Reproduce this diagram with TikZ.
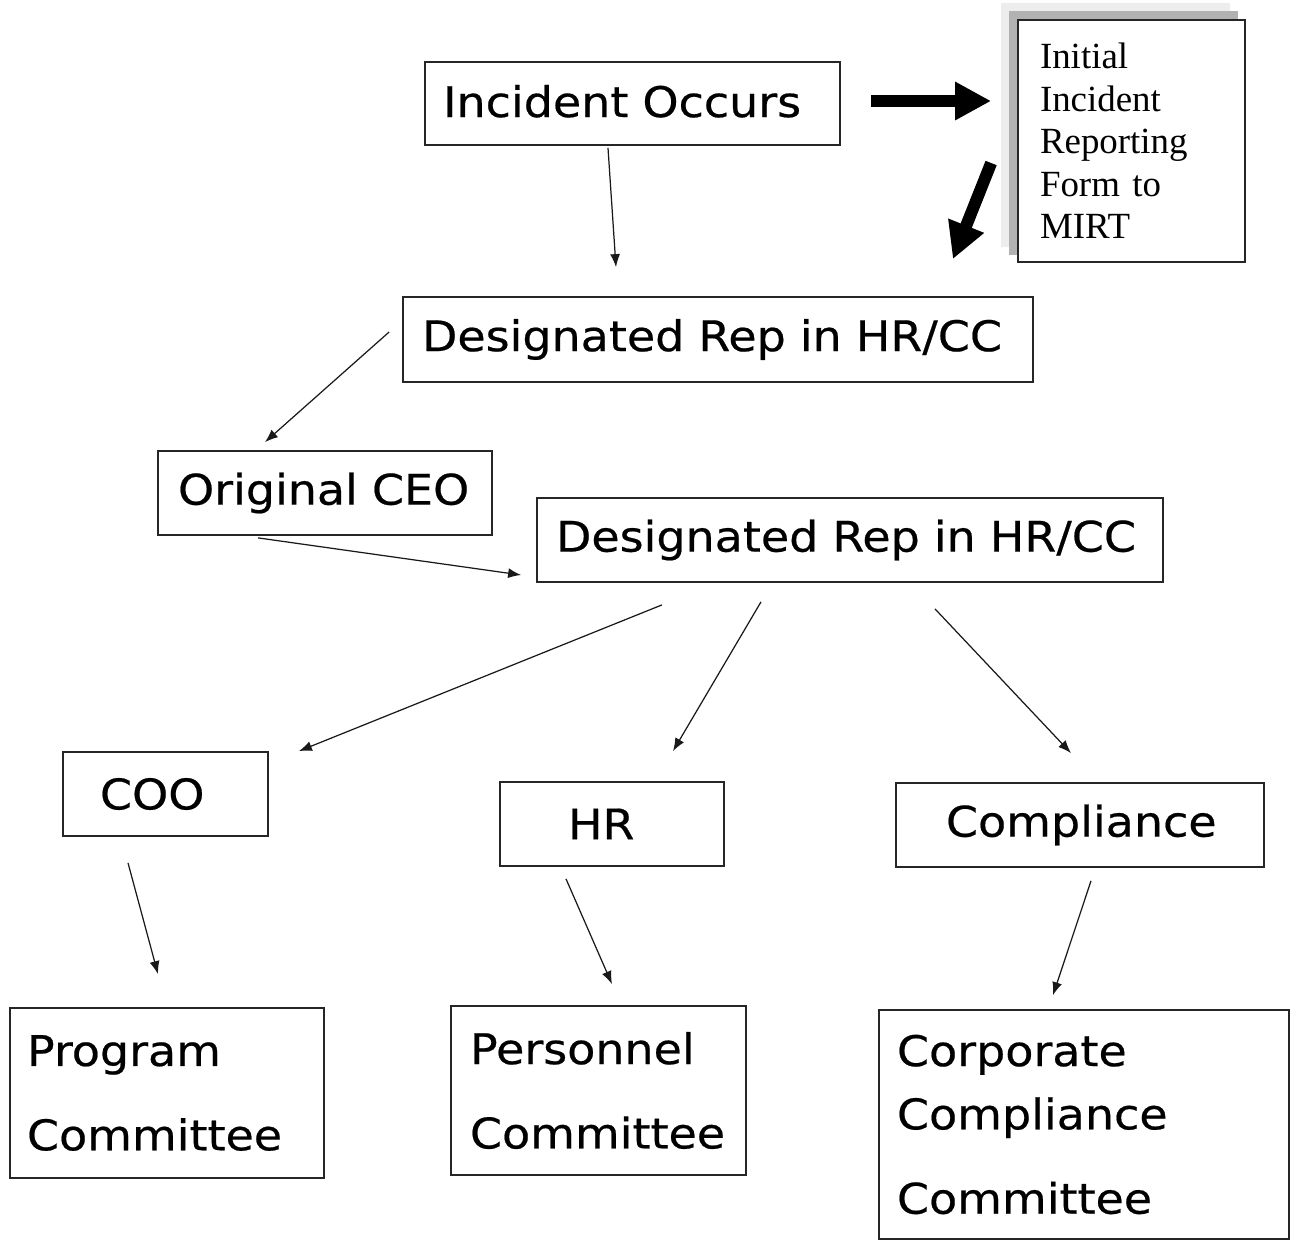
\documentclass[tikz,border=0pt]{standalone}
\usepackage{fontspec}
\setmainfont{DejaVu Sans}[FakeStretch=1.09, FakeBold=0.5]
\newfontfamily\formfont{Liberation Serif}
\usetikzlibrary{arrows.meta}
\tikzset{
    flowbox/.style={draw=black!85, line width=1pt, align=left, inner ysep=0pt,
        font=\fontsize{24}{29}\selectfont},
    thinarrow/.style={draw=black!90, line width=0.7pt,
        -{Latex[length=0.26cm, width=0.2cm]}},
    bigarrow/.style={line width=0.24cm, -{Triangle[length=0.72cm, width=0.72cm]}}
}
\begin{document}
\begin{tikzpicture}
        \useasboundingbox (0,0) rectangle (25.82,-24.82);
        \fill[black!7] (20.02,-0.06) rectangle (24.6,-4.94);
        \fill[black!30] (20.18,-0.22) rectangle (24.76,-5.10);
        \node[flowbox, minimum height=1.66cm, text width=7.58cm, inner xsep=0.36cm, text depth=0.1cm] (incident) at (12.65,-2.07) {Incident Occurs};
        \node[flowbox, fill=white, minimum height=4.84cm, text width=3.66cm, inner xsep=0.44cm,
            font=\formfont\fontsize{21}{24.2}\selectfont] (mirt) at (22.63,-2.82)
            {Initial\\Incident\\Reporting\\Form to\\MIRT};
        \node[flowbox, minimum height=1.7cm, text width=11.84cm, inner xsep=0.38cm] (rep1) at (14.36,-6.79) {Designated Rep in HR/CC};
        \node[flowbox, minimum height=1.68cm, text width=5.88cm, inner xsep=0.4cm] (ceo) at (6.5,-9.86) {Original CEO};
        \node[flowbox, minimum height=1.68cm, text width=11.76cm, inner xsep=0.38cm] (rep2) at (17.0,-10.8) {Designated Rep in HR/CC};
        \node[flowbox, minimum height=1.68cm, text width=2.62cm, inner xsep=0.74cm] (coo) at (3.31,-15.88) {COO};
        \node[flowbox, minimum height=1.68cm, text width=1.76cm, inner xsep=1.36cm] (hr) at (12.24,-16.48) {HR};
        \node[flowbox, minimum height=1.68cm, text width=5.36cm, inner xsep=1.0cm] (compliance) at (21.6,-16.5) {Compliance};
        \node[flowbox, minimum height=3.4cm, text width=5.6cm, inner xsep=0.34cm,
            font=\fontsize{24}{48}\selectfont] (program) at (3.34,-21.86) {Program\\Committee};
        \node[flowbox, minimum height=3.38cm, text width=5.14cm, inner xsep=0.38cm,
            font=\fontsize{24}{48}\selectfont] (personnel) at (11.97,-21.81) {Personnel\\Committee};
        \node[flowbox, minimum height=4.58cm, text width=7.48cm, inner xsep=0.36cm,
            font=\fontsize{24}{36}\selectfont] (corporate) at (21.68,-22.49) {Corporate\\Compliance\\[12pt]Committee};
        \draw[bigarrow] ([shift={(0.6,0.05)}]incident.east) -- ([shift={(-0.52,0.8)}]mirt.west);
        \draw[bigarrow] ([shift={(-0.52,-0.44)}]mirt.west) -- ([shift={(-1.62,0.74)}]rep1.north east);
        \draw[thinarrow] ([shift={(-0.49,-0.04)}]incident.south) -- ([shift={(-2.04,0.58)}]rep1.north);
        \draw[thinarrow] ([shift={(-0.26,0.15)}]rep1.west) -- ([shift={(-1.2,0.16)}]ceo.north);
        \draw[thinarrow] ([shift={(-1.34,-0.04)}]ceo.south) -- ([shift={(-0.3,-0.7)}]rep2.west);
        \draw[thinarrow] ([shift={(-3.76,-0.44)}]rep2.south) -- ([shift={(0.6,0)}]coo.north east);
        \draw[thinarrow] ([shift={(-1.78,-0.38)}]rep2.south) -- ([shift={(1.22,0.6)}]hr.north);
        \draw[thinarrow] ([shift={(1.7,-0.52)}]rep2.south) -- ([shift={(-0.18,0.58)}]compliance.north);
        \draw[thinarrow] ([shift={(-0.75,-0.52)}]coo.south) -- ([shift={(-0.18,0.66)}]program.north);
        \draw[thinarrow] ([shift={(-0.92,-0.24)}]hr.south) -- ([shift={(0.27,0.42)}]personnel.north);
        \draw[thinarrow] ([shift={(0.22,-0.26)}]compliance.south) -- ([shift={(-0.62,0.28)}]corporate.north);
    \end{tikzpicture}
\end{document}
